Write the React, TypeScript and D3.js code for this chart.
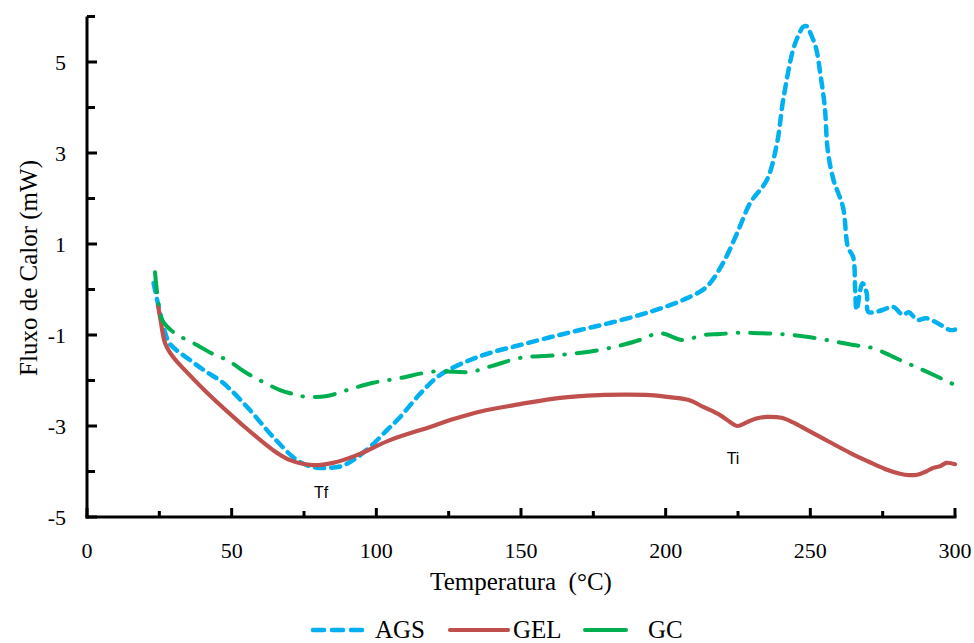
import React from "react";
import * as d3 from "d3";

// DSC curves: temperature (°C) and heat flow (mW)
const agsTemp = [23, 24.5, 27, 28.7, 35.6, 41, 47, 56.3, 64.3, 72.6, 78, 83, 88, 92, 98, 103.7, 108, 115, 122, 132.4, 140, 149.7, 160, 170.4, 181, 191, 198, 206, 214, 219.8, 224.7, 229.2, 235, 238.5, 240.6, 244, 246, 247.5, 249, 250, 252, 253.4, 255, 256, 258, 261.3, 263, 264.8, 265.5, 266, 268, 269.5, 270, 272, 275, 278.6, 282, 284, 287, 290, 294, 298.3, 300];
const agsFlow = [0.14, -0.3, -0.95, -1.2, -1.55, -1.8, -2.05, -2.65, -3.24, -3.75, -3.9, -3.92, -3.88, -3.75, -3.45, -3.09, -2.82, -2.3, -1.88, -1.55, -1.38, -1.22, -1.05, -0.89, -0.73, -0.56, -0.42, -0.23, 0.05, 0.58, 1.24, 1.9, 2.41, 3.22, 4.16, 5.26, 5.6, 5.77, 5.78, 5.64, 5.3, 4.76, 4.01, 3.07, 2.41, 1.81, 0.93, 0.71, -0.01, -0.45, 0.14, -0.08, -0.49, -0.5, -0.45, -0.38, -0.56, -0.5, -0.67, -0.63, -0.74, -0.89, -0.88];

const gelTemp = [24.5, 25.5, 27, 29.7, 35, 41.5, 52.9, 64.3, 70.2, 78.1, 85, 93.3, 104.7, 118.6, 125.5, 136, 149.7, 163.5, 177, 186, 194.6, 202, 208, 213, 218.8, 222, 224.7, 228, 231, 235, 240, 244, 249, 256, 263.7, 270, 276, 281, 284, 287, 290, 292.5, 295, 297, 300];
const gelFlow = [-0.34, -0.7, -1.18, -1.48, -1.85, -2.27, -2.93, -3.53, -3.75, -3.86, -3.81, -3.64, -3.31, -3.02, -2.87, -2.68, -2.52, -2.38, -2.32, -2.31, -2.32, -2.37, -2.43, -2.58, -2.76, -2.9, -3.0, -2.92, -2.84, -2.8, -2.82, -2.92, -3.09, -3.33, -3.59, -3.78, -3.95, -4.05, -4.08, -4.07, -4.0, -3.92, -3.88, -3.81, -3.84];

const gcTemp = [23.5, 24.5, 26, 29.7, 38, 43, 48.4, 55.3, 60.8, 66.7, 72, 76, 83, 89.9, 98.9, 108, 118.6, 124, 132.4, 140, 150, 163.5, 177, 185, 191, 198, 206, 213, 218.8, 225, 232.6, 240, 250, 259, 264.8, 271.7, 281, 290, 300];
const gcFlow = [0.38, -0.2, -0.67, -0.93, -1.22, -1.4, -1.55, -1.84, -2.03, -2.21, -2.31, -2.36, -2.34, -2.21, -2.05, -1.95, -1.81, -1.8, -1.81, -1.68, -1.5, -1.44, -1.33, -1.22, -1.11, -0.96, -1.11, -1.0, -0.98, -0.95, -0.96, -0.98, -1.05, -1.15, -1.22, -1.29, -1.55, -1.8, -2.1];

const xMajorTicks = [0, 50, 100, 150, 200, 250, 300];
const xMinorTicks = [25, 75, 125, 175, 225, 275];
const yMajorTicks = [-5, -3, -1, 1, 3, 5];
const yMinorTicks = [-4, -2, 0, 2, 4, 6];

const seriesNames = ["AGS", "GEL", "GC"];

const W = 974;
const H = 643;
const left = 87;
const right = 955;
const top = 16.5;
const bottom = 517;

const serif = "Liberation Serif, DejaVu Serif, serif";
const sans = "Liberation Sans, DejaVu Sans, sans-serif";

export default function App() {
  const x = d3.scaleLinear().domain([0, 300]).range([left, right]);
  const y = d3.scaleLinear().domain([-5, 6]).range([bottom, top]);

  const line = d3
    .line<[number, number]>()
    .x((d) => x(d[0]))
    .y((d) => y(d[1]))
    .curve(d3.curveCatmullRom.alpha(0.5));

  const zip = (a: number[], b: number[]) => a.map((t, i) => [t, b[i]] as [number, number]);

  const styles = [
    { color: "#00B0F0", dash: "9 7", width: 4.5 },
    { color: "#C0504D", dash: "none", width: 4.2 },
    { color: "#00B050", dash: "20 12 0.5 12", width: 4 },
  ];

  const data = [zip(agsTemp, agsFlow), zip(gelTemp, gelFlow), zip(gcTemp, gcFlow)];

  const legend = [
    { x1: 313, x2: 367, tx: 375 },
    { x1: 450, x2: 508, tx: 513 },
    { x1: 585, x2: 626, tx: 648 },
  ];

  return (
    <svg
      width={W}
      height={H}
      style={{ position: "absolute", left: 0, top: 0, background: "#fff" }}
    >
      {/* series */}
      {data.map((d, i) => (
        <path
          key={seriesNames[i]}
          d={line(d) ?? ""}
          fill="none"
          stroke={styles[i].color}
          strokeWidth={styles[i].width}
          strokeDasharray={styles[i].dash}
          strokeLinecap="round"
          strokeLinejoin="round"
        />
      ))}

      {/* axes */}
      <line x1={left} x2={left} y1={top} y2={bottom + 1.5} stroke="#000" strokeWidth={3} />
      <line x1={left - 1.5} x2={right + 1.5} y1={bottom} y2={bottom} stroke="#000" strokeWidth={3} />

      {yMajorTicks.map((t) => (
        <g key={`ym${t}`}>
          <line x1={left} x2={left + 10} y1={y(t)} y2={y(t)} stroke="#000" strokeWidth={3} />
          <text
            x={66}
            y={y(t)}
            dy="0.35em"
            textAnchor="end"
            style={{ fontFamily: serif, fontSize: 22 }}
            fill="#000"
          >
            {t}
          </text>
        </g>
      ))}
      {yMinorTicks.map((t) => (
        <line key={`yn${t}`} x1={left} x2={left + 8} y1={y(t)} y2={y(t)} stroke="#000" strokeWidth={3} />
      ))}

      {xMajorTicks.map((t) => (
        <g key={`xm${t}`}>
          <line x1={x(t)} x2={x(t)} y1={bottom} y2={bottom - 9} stroke="#000" strokeWidth={3} />
          <text
            x={x(t)}
            y={558}
            textAnchor="middle"
            style={{ fontFamily: serif, fontSize: 22 }}
            fill="#000"
          >
            {t}
          </text>
        </g>
      ))}
      {xMinorTicks.map((t) => (
        <line key={`xn${t}`} x1={x(t)} x2={x(t)} y1={bottom} y2={bottom - 6} stroke="#000" strokeWidth={3} />
      ))}

      {/* axis titles */}
      <text
        x={521}
        y={590}
        textAnchor="middle"
        style={{ fontFamily: serif, fontSize: 25, whiteSpace: "pre" }}
        fill="#000"
      >
        {"Temperatura  (°C)"}
      </text>
      <text
        transform={`translate(37,268) rotate(-90)`}
        textAnchor="middle"
        style={{ fontFamily: serif, fontSize: 25 }}
        fill="#000"
      >
        Fluxo de Calor (mW)
      </text>

      {/* annotations */}
      <text x={321} y={498} textAnchor="middle" style={{ fontFamily: sans, fontSize: 16 }} fill="#000">
        Tf
      </text>
      <text x={733} y={464} textAnchor="middle" style={{ fontFamily: sans, fontSize: 16 }} fill="#000">
        Ti
      </text>

      {/* legend */}
      {legend.map((l, i) => (
        <g key={`lg${i}`}>
          <line
            x1={l.x1}
            x2={l.x2}
            y1={630}
            y2={630}
            stroke={styles[i].color}
            strokeWidth={styles[i].width}
            strokeDasharray={i === 0 ? "11 8" : "none"}
            strokeLinecap="round"
          />
          <text x={l.tx} y={638} style={{ fontFamily: serif, fontSize: 25 }} fill="#000">
            {seriesNames[i]}
          </text>
        </g>
      ))}
    </svg>
  );
}
